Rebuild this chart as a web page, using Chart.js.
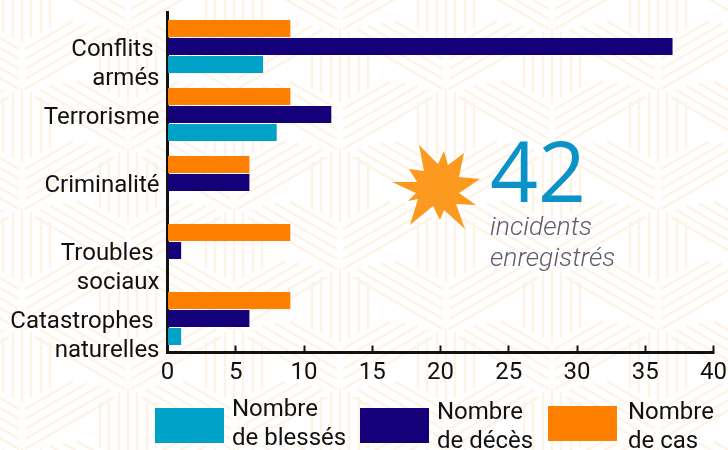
<!DOCTYPE html>
<html lang="fr">

<head>
    <meta charset="UTF-8">
    <title>Incidents enregistrés</title>
    <script src="https://cdn.jsdelivr.net/npm/chart.js"></script>
    <style>
        html, body { margin: 0; padding: 0; background: #fff; overflow: hidden; }
        #page { position: relative; width: 728px; height: 450px; overflow: hidden; font-family: Roboto, sans-serif; color: #111; }
        #bg, #star, canvas { position: absolute; left: 0; top: 0; }
        .swatch { position: absolute; width: 69px; height: 35px; }
        .legendText { position: absolute; font-size: 24px; line-height: 29px; white-space: nowrap; }
        #count { position: absolute; left: 490px; top: 122px; font: 400 84px/96px "Open Sans", sans-serif; color: #0b93c9; }
        #countText { position: absolute; left: 490px; top: 210px; font: italic 300 26.5px/31px Roboto, sans-serif; color: #5c5c6e; }
    </style>
</head>

<body>
    <div id="page">
        <svg id="bg" width="728" height="450"></svg>
        <canvas id="chart" width="728" height="450"></canvas>
        <svg id="star" width="728" height="450">
            <polygon fill="#fb9a1f" points="419,145 438,164 444,151 448,165 464,153 459,177 480,179 459,193 476,205 456,204 465,229 444,210 440,220 433,206 410,225 418,199 408,201 416,193 392,182 417,182 409,169 424,171"></polygon>
        </svg>
        <div id="count">42</div>
        <div id="countText">incidents<br>enregistrés</div>
    </div>

    <script>
        // Données
        const categories = [['Conflits ', 'armés'], ['Terrorisme'], ['Criminalité'], ['Troubles ', 'sociaux'], ['Catastrophes ', 'naturelles']];
        const nombreCas = [9, 9, 6, 9, 9];
        const nombreDeces = [37, 12, 6, 1, 6];
        const nombreBlesses = [7, 8, 0, 0, 1];
        const xTicks = [0, 5, 10, 15, 20, 25, 30, 35, 40];

        const legendNames = [['Nombre', 'de blessés'], ['Nombre', 'de décès'], ['Nombre', 'de cas']];
        const legendColors = ['#00a2c7', '#140079', '#ff8000'];

        // Motif de fond (décoration)
        function drawBackground() {
            const offsets = [-28, -19, -9, 0, 9, 19, 28];
            const halves = [23, 28, 33, 37, 33, 28, 23];
            const armStart = [44, 54, 64, 74, 84];
            const armLen = [48, 62, 75, 85, 90];
            let d = '';
            for (let col = -1; col < 8; col++) {
                for (let row = -1; row < 5; row++) {
                    const cx = 22 + col * 106;
                    const cy = 5 + row * 120 + (col % 2 ? 60 : 0);
                    offsets.forEach((o, i) => {
                        d += `M${cx + o} ${cy - halves[i]}V${cy + halves[i]}`;
                    });
                    armStart.forEach((s, i) => {
                        const len = armLen[i];
                        d += `M${cx - 3} ${cy + s}L${cx - 3 - len} ${cy + s - len * 0.577}`;
                        d += `M${cx + 3} ${cy + s}L${cx + 3 + len} ${cy + s - len * 0.577}`;
                    });
                }
            }
            const path = document.createElementNS('http://www.w3.org/2000/svg', 'path');
            path.setAttribute('d', d);
            path.setAttribute('fill', 'none');
            path.setAttribute('stroke', '#fdf3e6');
            path.setAttribute('stroke-width', '2.5');
            document.getElementById('bg').appendChild(path);
        }

        // Légende en HTML, sur deux lignes comme l'original
        function drawLegend() {
            const page = document.getElementById('page');
            const swatches = [[155, 408], [360, 408], [548, 406]];
            const texts = [[232, 394], [437, 397], [628, 397]];
            legendNames.forEach((lines, i) => {
                const box = document.createElement('div');
                box.className = 'swatch';
                box.style.left = swatches[i][0] + 'px';
                box.style.top = swatches[i][1] + 'px';
                box.style.background = legendColors[i];
                page.appendChild(box);

                const label = document.createElement('div');
                label.className = 'legendText';
                label.style.left = texts[i][0] + 'px';
                label.style.top = texts[i][1] + 'px';
                label.innerHTML = lines.join('<br>');
                page.appendChild(label);
            });
        }

        // Pas de marge automatique autour des axes : la zone de tracé reste fixe
        function noPadding(scale) {
            scale.paddingTop = 0;
            scale.paddingBottom = 0;
            scale.paddingLeft = 0;
            scale.paddingRight = 0;
        }

        drawBackground();
        drawLegend();

        const ctx = document.getElementById('chart').getContext('2d');
        new Chart(ctx, {
            type: 'bar',
            data: {
                labels: categories.map(c => c.join(' ')),
                datasets: [
                    { label: 'Nombre de cas', data: nombreCas, backgroundColor: legendColors[2] },
                    { label: 'Nombre de décès', data: nombreDeces, backgroundColor: legendColors[1] },
                    { label: 'Nombre de blessés', data: nombreBlesses, backgroundColor: legendColors[0] }
                ]
            },
            options: {
                indexAxis: 'y',
                responsive: false,
                animation: false,
                categoryPercentage: 54 / 68,
                barPercentage: 17 / 18,
                layout: { padding: { top: 12.5, right: 14.5, left: 0, bottom: 0 } },
                plugins: { legend: { display: false }, tooltip: { enabled: false } },
                scales: {
                    x: {
                        min: 0,
                        max: 40,
                        afterBuildTicks: scale => { scale.ticks = xTicks.map(v => ({ value: v })); },
                        afterFit: scale => { scale.height = 97.5; noPadding(scale); },
                        grid: { drawOnChartArea: false, tickLength: -7, tickWidth: 2, tickColor: '#111' },
                        border: { color: '#111', width: 3 },
                        ticks: { font: { family: 'Roboto', size: 24 }, color: '#111', padding: 13, maxRotation: 0, autoSkip: false }
                    },
                    y: {
                        afterFit: scale => { scale.width = 167.5; noPadding(scale); },
                        grid: { drawOnChartArea: false, drawTicks: false },
                        border: { color: '#111', width: 3 },
                        ticks: {
                            font: { family: 'Roboto', size: 24, lineHeight: 29 / 24 },
                            color: '#111',
                            padding: 8,
                            labelOffset: 3,
                            autoSkip: false,
                            // ligne vide en tête : la première ligne reste centrée sur la catégorie
                            callback: (value, i) => categories[i].length > 1 ? ['', ...categories[i]] : categories[i]
                        }
                    }
                }
            }
        });
    </script>
</body>

</html>
